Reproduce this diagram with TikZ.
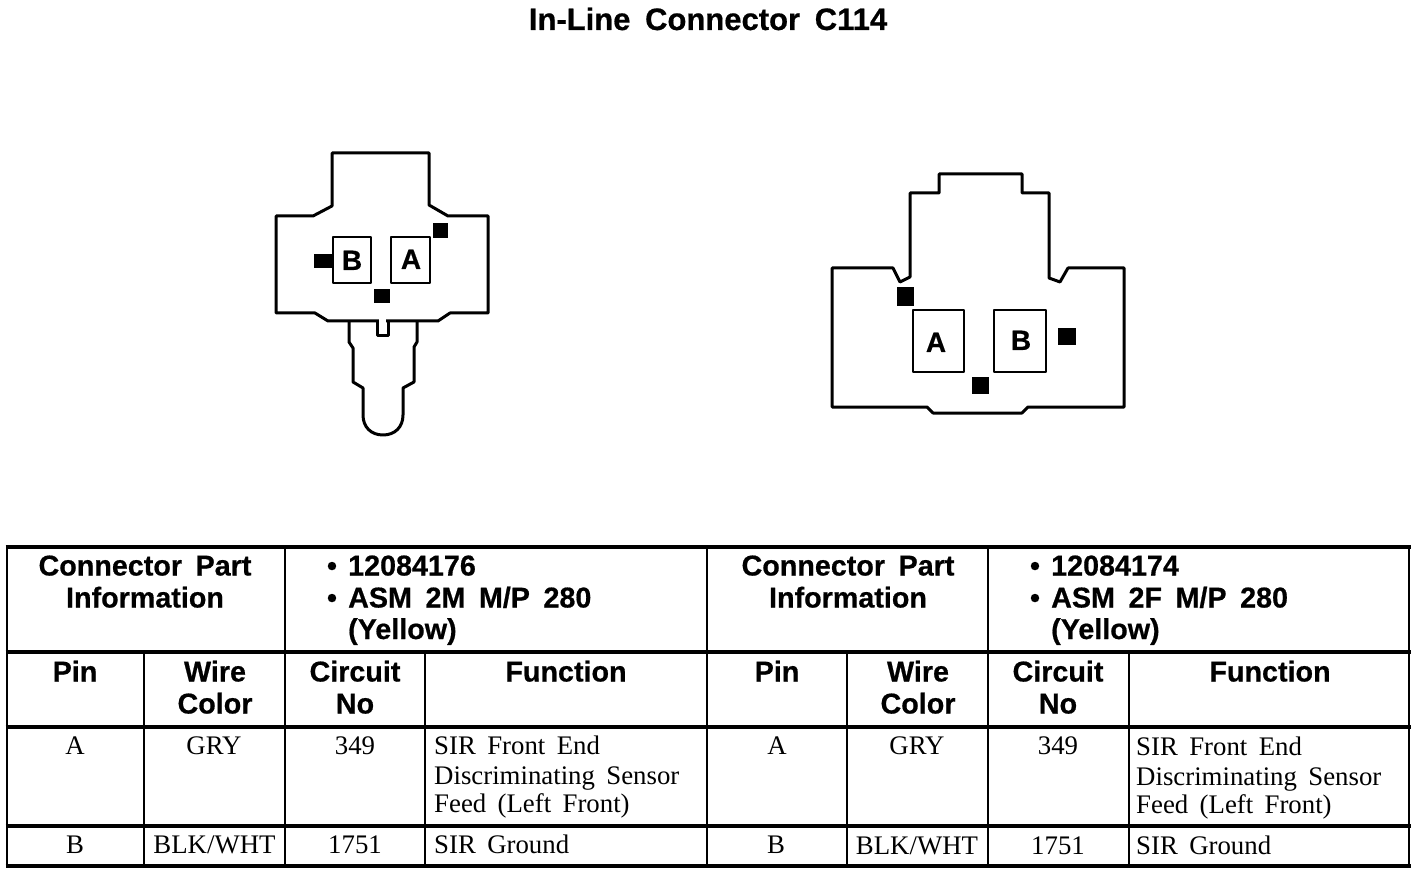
\documentclass[tikz,border=0pt]{standalone}
\usepackage{fontspec}
\setmainfont{Liberation Serif}[WordSpace=1.7]
\setsansfont{Liberation Sans}[WordSpace=1.7,BoldFeatures={FakeBold=0.6}]
\begin{document}
\begin{tikzpicture}[x=1pt,y=-1pt,line join=round,
  outl/.style={draw=black,line width=3pt,fill=white},
  pinbox/.style={draw=black,line width=2.8pt,fill=white},
  blk/.style={fill=black},
  hrule/.style={line width=3.2pt},
  vrule/.style={line width=2.6pt},
  vthin/.style={line width=2pt},
  ttl/.style={inner sep=0pt,anchor=base,font=\fontsize{31}{31}\selectfont\sffamily\bfseries},
  hd/.style={inner sep=0pt,anchor=base,font=\fontsize{28.7}{28.7}\selectfont\sffamily\bfseries},
  hdl/.style={hd,anchor=base west},
  pinl/.style={inner sep=0pt,anchor=base,font=\fontsize{28}{28}\selectfont\sffamily\bfseries},
  bd/.style={inner sep=0pt,anchor=base,font=\fontsize{26.8}{26.8}\selectfont\rmfamily},
  bdl/.style={bd,anchor=base west}]
\useasboundingbox (0,0) rectangle (1424,874);
\fill[white] (0,0) rectangle (1424,874);
\node[ttl] (title) at (708,30) {In-Line Connector C114};
% left connector
\draw[outl] (349,321) -- (349,342) -- (353,348) -- (353,382) -- (363,388) -- (363,415)
  .. controls (363,427) and (371,435) .. (383,435) .. controls (395,435) and (403,427) .. (403,415)
  -- (403,388) -- (414,382) -- (414,347) -- (417,342) -- (417,321);
\draw[outl] (332,153) -- (429,153) -- (429,205) -- (448,216) -- (488,216) -- (488,313) -- (450,313)
  -- (438,321) -- (328,321) -- (315,313) -- (276,313) -- (276,216) -- (313,216) -- (332,206) -- cycle;
\draw[white,line width=3.4pt] (379,321) -- (386,321);
\draw[black,line width=3pt] (377,320) -- (377,336) -- (388,336) -- (388,320);
\draw[pinbox] (333,237) rectangle (371,283);
\draw[pinbox] (391,237) rectangle (430,283);
\node[pinl] (lb) at (352,270) {B};
\node[pinl] (la) at (411,269) {A};
\fill[blk] (433,223) rectangle (448,238);
\fill[blk] (314,254) rectangle (333,268);
\fill[blk] (374,289) rectangle (390,303);
% right connector
\draw[outl] (939,174) -- (1022,174) -- (1022,193) -- (1049,193) -- (1049,278) -- (1060,282) -- (1068,268)
  -- (1124,268) -- (1124,407) -- (1028,407) -- (1022,413) -- (933,413) -- (927,407) -- (832,407)
  -- (832,268) -- (893,268) -- (900,282) -- (910,277) -- (910,193) -- (939,193) -- cycle;
\draw[pinbox] (913,310) rectangle (964,372);
\draw[pinbox] (994,310) rectangle (1046,372);
\node[pinl] (ra) at (936,352) {A};
\node[pinl] (rb) at (1021,350) {B};
\fill[blk] (897,287) rectangle (914,306);
\fill[blk] (1058,328) rectangle (1076,345);
\fill[blk] (972,377) rectangle (989,394);
% table
\draw[hrule] (5.5,547) -- (1410.5,547);
\draw[hrule] (5.5,652) -- (1410.5,652);
\draw[hrule] (5.5,727) -- (1410.5,727);
\draw[hrule] (5.5,826) -- (1410.5,826);
\draw[hrule] (5.5,866) -- (1410.5,866);
\draw[vrule] (7,547) -- (7,866);
\draw[vrule] (285,547) -- (285,866);
\draw[vrule] (707,547) -- (707,866);
\draw[vrule] (988,547) -- (988,866);
\draw[vrule] (1409,547) -- (1409,866);
\foreach \cx in {144,425,847,1129} \draw[vthin] (\cx,652) -- (\cx,866);
% left half
\node[hd] (cp1) at (145,575.5) {Connector Part};
\node[hd] (ci1) at (145,607.5) {Information};
\node[hd] (b1a) at (332,575.5) {•};
\node[hdl] (n1) at (348,575.5) {12084176};
\node[hd] (b1b) at (332,607.5) {•};
\node[hdl] (a1) at (348,607.5) {ASM 2M M/P 280};
\node[hdl] (y1) at (348,639) {(Yellow)};
\node[hd] (pin1) at (75,681.5) {Pin};
\node[hd] (w1) at (215,681.5) {Wire};
\node[hd] (c1) at (215,713.5) {Color};
\node[hd] (cc1) at (355,681.5) {Circuit};
\node[hd] (no1) at (355,713.5) {No};
\node[hd] (f1) at (566,681.5) {Function};
\node[bd] (pa1) at (75,754) {A};
\node[bd] (g1) at (214,754) {GRY};
\node[bd] (k1) at (355,754) {349};
\node[bdl] (s1) at (434,754) {SIR Front End};
\node[bdl] (d1) at (434,784) {Discriminating Sensor};
\node[bdl] (e1) at (434,812) {Feed (Left Front)};
\node[bd] (pb1) at (75,853) {B};
\node[bd] (bw1) at (214.5,853) {BLK/WHT};
\node[bd] (m1) at (355,853) {1751};
\node[bdl] (t1) at (434,853) {SIR Ground};
% right half
\node[hd] (cp2) at (848,575.5) {Connector Part};
\node[hd] (ci2) at (848,607.5) {Information};
\node[hd] (b2a) at (1035,575.5) {•};
\node[hdl] (n2) at (1051,575.5) {12084174};
\node[hd] (b2b) at (1035,607.5) {•};
\node[hdl] (a2) at (1051,607.5) {ASM 2F M/P 280};
\node[hdl] (y2) at (1051,639) {(Yellow)};
\node[hd] (pin2) at (777,681.5) {Pin};
\node[hd] (w2) at (918,681.5) {Wire};
\node[hd] (c2) at (918,713.5) {Color};
\node[hd] (cc2) at (1058,681.5) {Circuit};
\node[hd] (no2) at (1058,713.5) {No};
\node[hd] (f2) at (1270,681.5) {Function};
\node[bd] (pa2) at (777,754) {A};
\node[bd] (g2) at (917,754) {GRY};
\node[bd] (k2) at (1058,754) {349};
\node[bdl] (s2) at (1136,755) {SIR Front End};
\node[bdl] (d2) at (1136,785) {Discriminating Sensor};
\node[bdl] (e2) at (1136,813) {Feed (Left Front)};
\node[bd] (pb2) at (776,853) {B};
\node[bd] (bw2) at (917,854) {BLK/WHT};
\node[bd] (m2) at (1058,854) {1751};
\node[bdl] (t2) at (1136,854) {SIR Ground};
\end{tikzpicture}
\end{document}
